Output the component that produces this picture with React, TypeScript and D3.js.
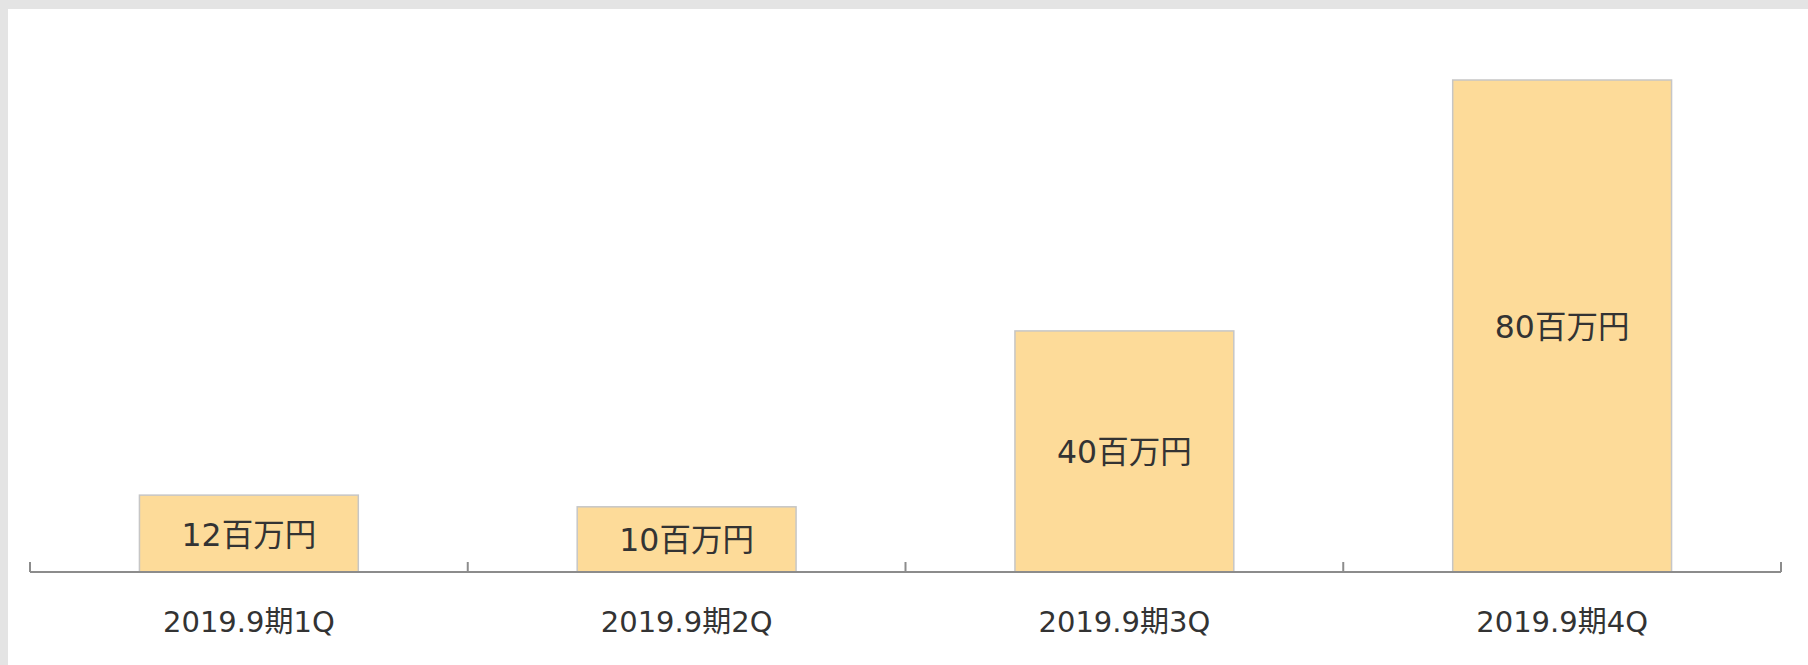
import React, { useEffect } from "react";
import * as d3 from "d3";

const categories = ["2019.9期1Q", "2019.9期2Q", "2019.9期3Q", "2019.9期4Q"];
const values = [12.5, 10.6, 39.2, 80];
const valueLabels = ["12百万円", "10百万円", "40百万円", "80百万円"];

const W = 1808;
const H = 665;
const axisY = 572;
// Latin glyphs from DejaVu (Verdana-like), kanji fall back to Noto CJK
const font = "'DejaVu Sans', 'Noto Sans CJK JP', sans-serif";

function App() {
  useEffect(() => {
    document.body.style.margin = "0";
  }, []);

  const x = d3
    .scaleBand<string>()
    .domain(categories)
    .range([30, 1781])
    .paddingInner(0.5)
    .paddingOuter(0.25);

  const y = d3.scaleLinear().domain([0, 80]).range([axisY, 80]);

  // tick marks sit on the category boundaries
  const boundaries = d3.range(categories.length + 1).map((i) => x.range()[0] + i * x.step());

  return (
    <svg width={W} height={H} style={{ display: "block" }}>
      <rect x={0} y={0} width={W} height={H} fill="#e4e4e4" />
      <rect x={8} y={9} width={W - 8} height={H - 9} fill="#ffffff" />

      {categories.map((c, i) => (
        <g key={c}>
          <rect
            x={x(c)}
            y={y(values[i])}
            width={x.bandwidth()}
            height={axisY - y(values[i])}
            fill="#fddb99"
            stroke="#c6c6c6"
            strokeWidth={1.5}
          />
          <text
            x={x(c)! + x.bandwidth() / 2}
            y={(y(values[i]) + axisY) / 2 + 12}
            textAnchor="middle"
            fontFamily={font}
            fontSize={31.5}
            fill="#333333"
          >
            {valueLabels[i]}
          </text>
          <text
            x={x(c)! + x.bandwidth() / 2}
            y={632}
            textAnchor="middle"
            fontFamily={font}
            fontSize={29}
            fill="#333333"
          >
            {c}
          </text>
        </g>
      ))}

      <line x1={boundaries[0]} x2={boundaries[boundaries.length - 1]} y1={axisY} y2={axisY} stroke="#8c8c8c" strokeWidth={2} />
      {boundaries.map((b, i) => (
        <line key={i} x1={b} x2={b} y1={axisY} y2={axisY - 10} stroke="#8c8c8c" strokeWidth={2} />
      ))}
    </svg>
  );
}

export default App;
